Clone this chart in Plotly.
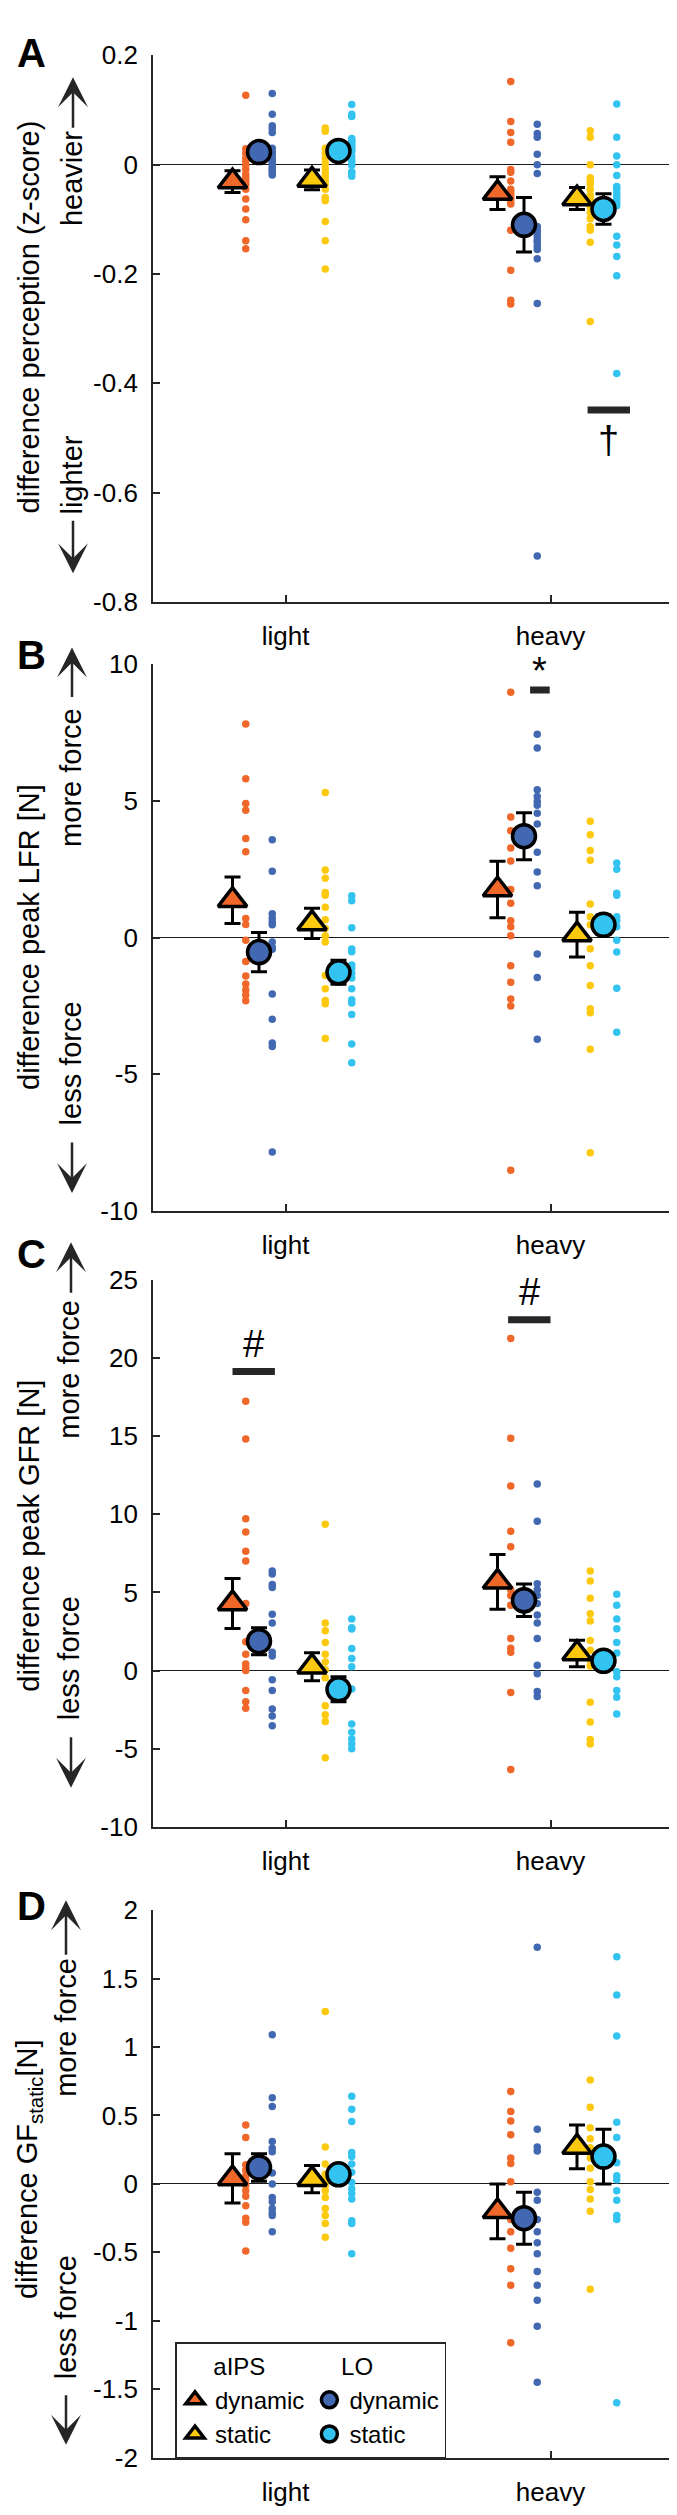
import plotly.graph_objects as go

# ---------------- data ----------------
categories = ["light", "heavy"]
cat_pos = [1, 2]

# Panel A: difference perception (z-score)
A_aIPS_dyn_light = [0.127, 0.029, 0.021, 0.012, 0.006, -0.001, -0.009, -0.018, -0.024, -0.030, -0.036, -0.045, -0.063, -0.081, -0.101, -0.139, -0.154]
A_aIPS_dyn_heavy = [0.152, 0.079, 0.059, 0.041, -0.009, -0.014, -0.030, -0.045, -0.050, -0.056, -0.062, -0.067, -0.072, -0.120, -0.193, -0.248, -0.255]
A_LO_dyn_light = [0.130, 0.092, 0.071, 0.066, 0.059, 0.030, 0.024, 0.019, 0.012, 0.008, 0.005, 0.001, -0.004, -0.008, -0.011, -0.015, -0.019]
A_LO_dyn_heavy = [0.074, 0.057, 0.050, 0.019, 0.000, -0.016, -0.113, -0.120, -0.125, -0.131, -0.138, -0.142, -0.149, -0.155, -0.172, -0.254, -0.716]
A_aIPS_sta_light = [0.067, 0.061, 0.030, 0.021, 0.012, 0.003, -0.006, -0.015, -0.021, -0.030, -0.036, -0.045, -0.060, -0.066, -0.104, -0.139, -0.191]
A_aIPS_sta_heavy = [0.062, 0.050, 0.000, -0.024, -0.030, -0.036, -0.045, -0.056, -0.060, -0.067, -0.077, -0.088, -0.099, -0.113, -0.120, -0.142, -0.287]
A_LO_sta_light = [0.110, 0.092, 0.088, 0.048, 0.044, 0.041, 0.036, 0.033, 0.028, 0.024, 0.015, 0.009, 0.005, -0.001, -0.013, -0.015, -0.021]
A_LO_sta_heavy = [0.111, 0.050, 0.016, 0.000, -0.020, -0.040, -0.045, -0.052, -0.058, -0.064, -0.070, -0.075, -0.131, -0.147, -0.168, -0.203, -0.382]
A_mean_aIPS_dyn = [-0.031, -0.052]; A_sem_aIPS_dyn = [0.020, 0.030]
A_mean_LO_dyn = [0.023, -0.110];    A_sem_LO_dyn = [0.010, 0.050]
A_mean_aIPS_sta = [-0.028, -0.062]; A_sem_aIPS_sta = [0.018, 0.020]
A_mean_LO_sta = [0.025, -0.081];    A_sem_LO_sta = [0.009, 0.028]

# Panel B: difference peak LFR [N]
B_aIPS_dyn_light = [7.81, 5.81, 4.91, 4.66, 3.63, 3.14, 0.70, 0.48, -0.10, -0.87, -1.40, -1.70, -1.92, -2.10, -2.31]
B_aIPS_dyn_heavy = [8.98, 4.41, 3.91, 3.28, 2.80, 1.76, 1.26, 0.62, 0.40, 0.07, -1.03, -1.63, -2.25, -2.50, -8.51]
B_LO_dyn_light = [3.58, 2.43, 0.87, 0.71, 0.57, 0.47, -0.16, -0.34, -0.43, -2.06, -2.99, -3.86, -3.98, -7.84]
B_LO_dyn_heavy = [7.44, 6.94, 5.41, 5.16, 4.98, 4.84, 4.55, 4.16, 3.12, 2.40, 1.90, -0.60, -1.46, -3.72]
B_aIPS_sta_light = [5.31, 2.47, 2.17, 1.65, 1.55, 1.11, 0.65, 0.33, 0.06, -0.16, -1.39, -1.87, -2.30, -2.42, -3.69]
B_aIPS_sta_heavy = [4.26, 3.76, 3.19, 2.83, 1.23, 0.76, 0.47, -0.41, -1.03, -1.75, -2.60, -2.75, -4.08, -7.87]
B_LO_sta_light = [1.53, 1.35, 0.36, -0.42, -0.52, -1.00, -1.12, -1.30, -1.48, -1.87, -2.27, -2.39, -2.81, -3.89, -4.58]
B_LO_sta_heavy = [2.73, 2.50, 1.62, 1.55, 0.76, 0.62, 0.40, -0.10, -0.53, -1.85, -3.46]
B_mean_aIPS_dyn = [1.37, 1.76];  B_sem_aIPS_dyn = [0.85, 1.03]
B_mean_LO_dyn = [-0.53, 3.71];   B_sem_LO_dyn = [0.72, 0.86]
B_mean_aIPS_sta = [0.52, 0.11];  B_sem_aIPS_sta = [0.55, 0.82]
B_mean_LO_sta = [-1.27, 0.47];   B_sem_LO_sta = [0.44, 0.36]

# Panel C: difference peak GFR [N]
C_aIPS_dyn_light = [17.24, 14.81, 9.71, 8.86, 7.63, 7.01, 4.30, 1.85, 1.05, 0.43, 0.18, 0.00, -1.28, -2.00, -2.40]
C_aIPS_dyn_heavy = [21.25, 14.86, 11.81, 8.91, 7.93, 5.18, 4.80, 4.18, 2.05, 1.43, 1.18, -1.40, -6.33]
C_LO_dyn_light = [6.38, 6.18, 5.51, 5.31, 3.60, 3.05, 1.18, 0.93, -0.58, -1.28, -2.45, -2.90, -3.53]
C_LO_dyn_heavy = [11.94, 9.56, 5.56, 5.18, 4.80, 4.30, 3.55, 3.05, 2.05, 0.35, -0.20, -1.33, -1.65]
C_aIPS_sta_light = [9.36, 3.05, 2.55, 1.80, 1.05, 0.55, 0.05, -0.45, -2.25, -2.83, -3.25, -5.58]
C_aIPS_sta_heavy = [6.38, 5.73, 4.63, 3.63, 3.18, 1.93, 1.30, 0.68, 0.30, -2.03, -3.28, -4.40, -4.70]
C_LO_sta_light = [3.30, 2.75, 2.67, 1.41, 0.78, 0.25, -1.18, -3.42, -3.95, -4.37, -4.68, -5.00]
C_LO_sta_heavy = [4.88, 4.18, 3.30, 2.68, 1.80, 1.13, -0.08, -0.40, -1.28, -1.70, -2.78]
C_mean_aIPS_dyn = [4.30, 5.68];  C_sem_aIPS_dyn = [1.60, 1.75]
C_mean_LO_dyn = [1.88, 4.50];    C_sem_LO_dyn = [0.87, 1.04]
C_mean_aIPS_sta = [0.25, 1.10];  C_sem_aIPS_sta = [0.90, 0.85]
C_mean_LO_sta = [-1.20, 0.63];   C_sem_LO_sta = [0.80, 0.40]

# Panel D: difference GF_static [N]
D_aIPS_dyn_light = [0.43, 0.34, 0.14, 0.10, 0.06, 0.03, -0.01, -0.05, -0.09, -0.16, -0.25, -0.28, -0.49]
D_aIPS_dyn_heavy = [0.675, 0.53, 0.46, 0.36, 0.19, 0.15, 0.016, -0.26, -0.35, -0.47, -0.62, -0.74, -1.16]
D_LO_dyn_light = [1.09, 0.63, 0.565, 0.31, 0.26, 0.235, 0.08, 0.0, -0.10, -0.13, -0.18, -0.21, -0.23, -0.35]
D_LO_dyn_heavy = [1.73, 0.40, 0.27, 0.24, -0.06, -0.12, -0.26, -0.35, -0.43, -0.51, -0.64, -0.74, -0.85, -1.04, -1.45]
D_aIPS_sta_light = [1.26, 0.27, 0.145, 0.07, 0.03, -0.01, -0.05, -0.10, -0.18, -0.23, -0.29, -0.39]
D_aIPS_sta_heavy = [0.76, 0.56, 0.41, 0.33, 0.265, 0.19, 0.115, 0.016, -0.04, -0.11, -0.20, -0.77]
D_LO_sta_light = [0.64, 0.545, 0.457, 0.23, 0.20, 0.145, 0.085, 0.01, -0.035, -0.07, -0.11, -0.27, -0.29, -0.51]
D_LO_sta_heavy = [1.66, 1.38, 1.08, 0.45, 0.34, 0.155, 0.06, 0.03, -0.05, -0.12, -0.23, -0.26, -1.60]
D_mean_aIPS_dyn = [0.04, -0.20];  D_sem_aIPS_dyn = [0.18, 0.20]
D_mean_LO_dyn = [0.12, -0.25];    D_sem_LO_dyn = [0.10, 0.19]
D_mean_aIPS_sta = [0.035, 0.27];  D_sem_aIPS_sta = [0.10, 0.16]
D_mean_LO_sta = [0.07, 0.20];     D_sem_LO_sta = [0.065, 0.20]

# axis ticks
A_ticks = [-0.8, -0.6, -0.4, -0.2, 0, 0.2]
A_ticklabels = ["-0.8", "-0.6", "-0.4", "-0.2", "0", "0.2"]
B_ticks = [-10, -5, 0, 5, 10]
B_ticklabels = ["-10", "-5", "0", "5", "10"]
C_ticks = [-10, -5, 0, 5, 10, 15, 20, 25]
C_ticklabels = ["-10", "-5", "0", "5", "10", "15", "20", "25"]
D_ticks = [-2, -1.5, -1, -0.5, 0, 0.5, 1, 1.5, 2]
D_ticklabels = ["-2", "-1.5", "-1", "-0.5", "0", "0.5", "1", "1.5", "2"]

# significance markers
sigA_x = [2.14, 2.30]; sigA_y = [-0.449, -0.449]; sigA_text = "†"; sigA_pos = (2.22, -0.503)
sigB_x = [1.923, 1.997]; sigB_y = [9.06, 9.06]; sigB_text = "*"; sigB_pos = (1.96, 9.75)
sigC1_x = [0.80, 0.96]; sigC1_y = [19.14, 19.14]; sigC1_text = "#"; sigC1_pos = (0.88, 20.9)
sigC2_x = [1.84, 2.00]; sigC2_y = [22.45, 22.45]; sigC2_text = "#"; sigC2_pos = (1.92, 24.2)

# ---------------- figure ----------------
W, H = 677, 2515
ML, MR = 145, 2
FONT = "Liberation Sans, Arial, Helvetica, sans-serif"
INK = "#262626"
NB = "\u00a0"

def py(p):
    return 1 - p / H

def px(p):
    return (p - ML) / (W - ML - MR)

conds = [
    ("aIPS_dyn", "aIPS", "dynamic", "#F0672A", "triangle-up", -0.20, -0.15),
    ("LO_dyn", "LO", "dynamic", "#4268B1", "circle", -0.10, -0.05),
    ("aIPS_sta", "aIPS", "static", "#FDC90F", "triangle-up", 0.10, 0.15),
    ("LO_sta", "LO", "static", "#33C3F0", "circle", 0.20, 0.25),
]
group_titles = {"aIPS": NB * 5 + "aIPS", "LO": NB * 4 + "LO"}

g = globals()
panels = ["A", "B", "C", "D"]
domains = {
    "A": [py(586.0), py(32.7)],
    "B": [py(1202.3), py(649.0)],
    "C": [py(1825.7), py(1272.0)],
    "D": [py(2464.0), py(1910.0)],
}
ranges = {"A": [-0.8, 0.2], "B": [-10, 10], "C": [-10, 25], "D": [-2, 2]}

fig = go.Figure()

for i, p in enumerate(panels):
    xa = "x" if i == 0 else f"x{i+1}"
    ya = "y" if i == 0 else f"y{i+1}"
    # individual participants
    for key, grp, name, col, sym, moff, doff in conds:
        for j, cat in enumerate(categories):
            vals = g[f"{p}_{key}_{cat}"]
            fig.add_trace(go.Scatter(
                x=[cat_pos[j] + doff] * len(vals), y=vals, mode="markers",
                marker=dict(size=7.5, color=col, line=dict(width=0)),
                xaxis=xa, yaxis=ya, showlegend=False, hoverinfo="skip"))
    # means with SEM
    for key, grp, name, col, sym, moff, doff in conds:
        tri = sym.startswith("triangle")
        fig.add_trace(go.Scatter(
            x=[c + moff for c in cat_pos], y=g[f"{p}_mean_{key}"], mode="markers",
            marker=dict(symbol=sym, size=25 if tri else 23, color=col,
                        line=dict(color="black", width=3.5)),
            error_y=dict(type="data", array=g[f"{p}_sem_{key}"], color="black",
                         thickness=3, width=8),
            name=name, legendgroup=grp, legendgrouptitle_text=group_titles[grp],
            showlegend=(p == "D"), xaxis=xa, yaxis=ya))

# significance bars
for pn, sx, sy in [("A", sigA_x, sigA_y), ("B", sigB_x, sigB_y),
                   ("C", sigC1_x, sigC1_y), ("C", sigC2_x, sigC2_y)]:
    i = panels.index(pn)
    fig.add_trace(go.Scatter(x=sx, y=sy, mode="lines",
                             line=dict(color=INK, width=7),
                             xaxis="x" if i == 0 else f"x{i+1}",
                             yaxis="y" if i == 0 else f"y{i+1}",
                             showlegend=False, hoverinfo="skip"))

layout = dict(
    width=W, height=H,
    margin=dict(l=ML, r=MR, t=0, b=0),
    paper_bgcolor="white", plot_bgcolor="white",
    font=dict(family=FONT, color="black", size=26),
    showlegend=True,
    legend=dict(orientation="h", traceorder="grouped",
                x=px(167), y=py(2347), xanchor="left", yanchor="top",
                bgcolor="white", bordercolor=INK, borderwidth=1.5,
                font=dict(size=24, family=FONT, color="black"),
                grouptitlefont=dict(size=24, family=FONT, color="black"),
                tracegroupgap=10),
)
ticks = {"A": (A_ticks, A_ticklabels), "B": (B_ticks, B_ticklabels),
         "C": (C_ticks, C_ticklabels), "D": (D_ticks, D_ticklabels)}
for i, p in enumerate(panels):
    sx = "" if i == 0 else str(i + 1)
    layout["xaxis" + sx] = dict(
        domain=[0, 1], anchor="y" + sx, range=[0.5, 2.5],
        tickmode="array", tickvals=cat_pos, ticktext=categories,
        ticks="inside", ticklen=7, tickwidth=1.5, tickcolor=INK,
        showline=True, linecolor=INK, linewidth=1.8,
        showgrid=False, zeroline=False,
        tickfont=dict(size=26, family=FONT, color="black"),
        ticklabelstandoff=10)
    tv, tt = ticks[p]
    layout["yaxis" + sx] = dict(
        domain=domains[p], anchor="x" + sx, range=ranges[p],
        tickmode="array", tickvals=tv, ticktext=tt,
        ticks="inside", ticklen=7, tickwidth=1.5, tickcolor=INK,
        showline=True, linecolor=INK, linewidth=1.8,
        showgrid=False, zeroline=True, zerolinecolor="#1a1a1a", zerolinewidth=1.4,
        tickfont=dict(size=26, family=FONT, color="black"),
        ticklabelstandoff=8)
fig.update_layout(**layout)

ann = []
# panel letters
for letter, yc in [("A", 30), ("B", 640), ("C", 1246), ("D", 1906)]:
    ann.append(dict(text=f"<b>{letter}</b>", x=px(23), y=py(yc), xref="paper", yref="paper",
                    showarrow=False, xanchor="center", yanchor="middle",
                    font=dict(size=40, family=FONT, color="black")))
# y titles
for txt, yc in [("difference perception (z-score)", 298),
                ("difference peak LFR [N]", 925),
                ("difference peak GFR [N]", 1531),
                ("difference GF<sub>static</sub>[N]", 2172)]:
    ann.append(dict(text=txt, textangle=-90, x=px(21), y=py(yc), xref="paper", yref="paper",
                    showarrow=False, xanchor="center", yanchor="middle",
                    font=dict(size=29, family=FONT, color="black")))
# direction labels
for txt, xc, yc in [("heavier", 64, 158), ("lighter", 64, 458),
                    ("more force", 63, 764), ("less force", 63, 1053),
                    ("more force", 61, 1363), ("less force", 61, 1655),
                    ("more force", 58, 2029), ("less force", 58, 2322)]:
    ann.append(dict(text=txt, textangle=-90, x=px(xc), y=py(yc), xref="paper", yref="paper",
                    showarrow=False, xanchor="center", yanchor="middle",
                    font=dict(size=29, family=FONT, color="black")))
# direction arrows (tip, tail)
for xc, tip, tail in [(65, 55, 107), (65, 557, 503),
                      (64, 632, 683), (64, 1184, 1132),
                      (63, 1234, 1286), (63, 1786, 1734),
                      (58, 1900, 1956), (58, 2451, 2400)]:
    ann.append(dict(text="", x=px(xc), y=py(tip), xref="paper", yref="paper",
                    ax=0, ay=tail - tip, axref="pixel", ayref="pixel",
                    showarrow=True, arrowhead=3, arrowsize=2, arrowwidth=2.5,
                    arrowcolor=INK, standoff=0, startstandoff=0))
# significance labels
for pn, txt, pos in [("A", sigA_text, sigA_pos), ("B", sigB_text, sigB_pos),
                     ("C", sigC1_text, sigC1_pos), ("C", sigC2_text, sigC2_pos)]:
    i = panels.index(pn)
    ann.append(dict(text=txt, x=pos[0], y=pos[1],
                    xref="x" if i == 0 else f"x{i+1}", yref="y" if i == 0 else f"y{i+1}",
                    showarrow=False, xanchor="center", yanchor="middle",
                    font=dict(size=38, family=FONT, color="black")))
fig.update_layout(annotations=ann)

fig.write_html("out.html")
